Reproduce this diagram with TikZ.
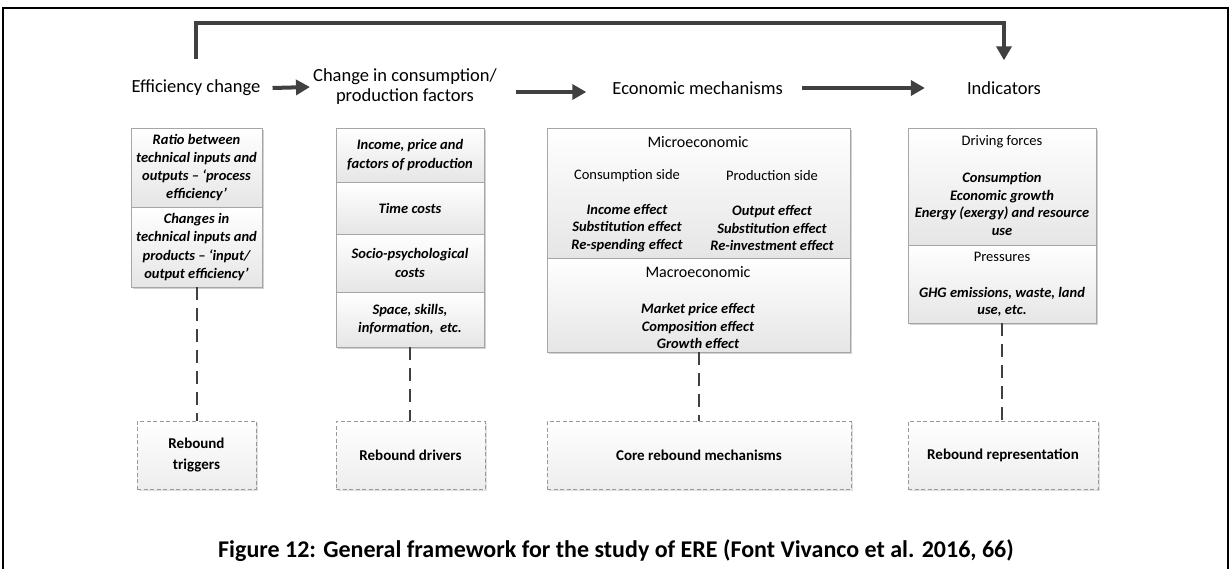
\documentclass[tikz,border=0pt]{standalone}
\usepackage{fontspec}
\setmainfont{Carlito}
\usetikzlibrary{arrows.meta,shadows}
\begin{document}
\begin{tikzpicture}[x=1pt,y=-1pt,
  seg/.style={draw=black!35, line width=0.8pt, top color=white, bottom color=black!10,
    inner sep=0pt, align=center, font=\fontsize{14.5}{18.3}\selectfont\bfseries\itshape,
    drop shadow={shadow xshift=1.5pt, shadow yshift=-1.5pt, fill=black, opacity=0.18}},
  hdr/.style={font=\fontsize{18.5}{20}\selectfont, align=center, inner sep=0pt},
  lbl/.style={font=\fontsize{14.5}{18}\selectfont, inner sep=0pt, align=center},
  ttl/.style={font=\fontsize{16}{18}\selectfont, inner sep=0pt, align=center},
  itm/.style={font=\fontsize{14.5}{17.5}\selectfont\bfseries\itshape, inner sep=0pt, align=center},
  bot/.style={draw=black!40, dash pattern=on 4pt off 2.5pt, line width=0.7pt,
    top color=white, bottom color=black!7, inner sep=0pt, align=center,
    font=\fontsize{15}{21}\selectfont\bfseries,
    drop shadow={shadow xshift=1.5pt, shadow yshift=-1.5pt, fill=black, opacity=0.12}},
  arr/.style={draw=black!75, line width=4pt, -{Triangle[length=14pt,width=15pt]}},
  dsh/.style={draw=black!75, line width=2pt, dash pattern=on 13pt off 8pt}
]
\useasboundingbox (0,0) rectangle (1232,568);
\draw[line width=2pt] (3,580) -- (3,8) -- (1228,8) -- (1228,580);

% headers
\node[hdr] (h1) at (196,88) {Efficiency change};
\node[hdr] (h2) at (405,87) {Change in consumption/\\production factors};
\node[hdr, anchor=east] (h3) at (783,88) {Economic mechanisms};
\node[hdr] (h4) at (1004,88) {Indicators};

% arrows
\draw[arr] ([xshift=12pt]h1.east) -- ([xshift=-3pt]h2.west);
\path ([xshift=19pt,yshift=-5pt]h2.east) coordinate (a2s);
\path ([xshift=-26pt]h3.west) coordinate (a2e);
\draw[arr] (a2s) -- (a2e |- a2s);
\draw[arr] ([xshift=19pt]h3.east) -- ([xshift=-42pt]h4.west);
\draw[arr] ([yshift=21pt]h1.north) -- ([yshift=57pt]h1.north) -| ([yshift=21pt]h4.north);

% box 1
\node[seg, minimum width=131pt, minimum height=79pt] (b1a) at (196.5,167.5)
  {Ratio between\\technical inputs and\\outputs – ‘process\\efficiency’};
\node[seg, minimum width=131pt, minimum height=80pt] (b1b) at (196.5,247)
  {Changes in\\technical inputs and\\products – ‘input/\\output efficiency’};

% box 2
\node[seg, minimum width=148pt, minimum height=54pt] (b2a) at (410,155)
  {Income, price and\\factors of production};
\node[seg, minimum width=148pt, minimum height=52pt] (b2b) at (410,208) {Time costs};
\node[seg, minimum width=148pt, minimum height=58pt] (b2c) at (410,263)
  {Socio-psychological\\costs};
\node[seg, minimum width=148pt, minimum height=55pt] (b2d) at (410,319.5)
  {Space, skills,\\information,\ \ etc.};

% box 3
\node[seg, minimum width=303pt, minimum height=130pt] (b3a) at (698.5,193) {};
\node[seg, minimum width=303pt, minimum height=94pt] (b3b) at (698.5,305) {};
\node[ttl] (mic) at (698,142) {Microeconomic};
\node[lbl] (cs) at (627,176) {Consumption side};
\node[lbl] (ps) at (772,176) {Production side};
\node[itm] (ce) at (627,228) {Income effect\\Substitution effect\\Re-spending effect};
\node[itm] (pe) at (772,228) {Output effect\\Substitution effect\\Re-investment effect};
\node[ttl] (mac) at (698,272) {Macroeconomic};
\node[itm] (me) at (698,326) {Market price effect\\Composition effect\\Growth effect};

% box 4
\node[seg, minimum width=188pt, minimum height=117pt] (b4a) at (1002,186.5) {};
\node[seg, minimum width=188pt, minimum height=78pt] (b4b) at (1002,284) {};
\node[lbl] (df) at (1002,142) {Driving forces};
\node[itm] (dfi) at (1002,204) {Consumption\\Economic growth\\Energy (exergy) and resource\\use};
\node[lbl] (pr) at (1002,257) {Pressures};
\node[itm] (pri) at (1002,302) {GHG emissions, waste, land\\use, etc.};

% bottom boxes
\node[bot, minimum width=119pt, minimum height=68pt] (ba) at (196.5,455) {Rebound\\triggers};
\node[bot, minimum width=149pt, minimum height=68pt] (bb) at (410.5,455) {Rebound drivers};
\node[bot, minimum width=304pt, minimum height=68pt] (bc) at (699,455) {Core rebound mechanisms};
\node[bot, minimum width=190pt, minimum height=68pt] (bd) at (1003,455) {Rebound representation};

% dashed connectors
\draw[dsh] (b1b.south) -- (b1b.south |- ba.north);
\draw[dsh] (b2d.south) -- (b2d.south |- bb.north);
\draw[dsh] (b3b.south) -- (b3b.south |- bc.north);
\draw[dsh] (b4b.south) -- (b4b.south |- bd.north);

% caption
\node[font=\fontsize{24}{28}\selectfont\bfseries, anchor=base, inner sep=0pt] (cap) at (616,557)
  {Figure 12: General framework for the study of ERE (Font Vivanco et al. 2016, 66)};
\end{tikzpicture}
\end{document}
